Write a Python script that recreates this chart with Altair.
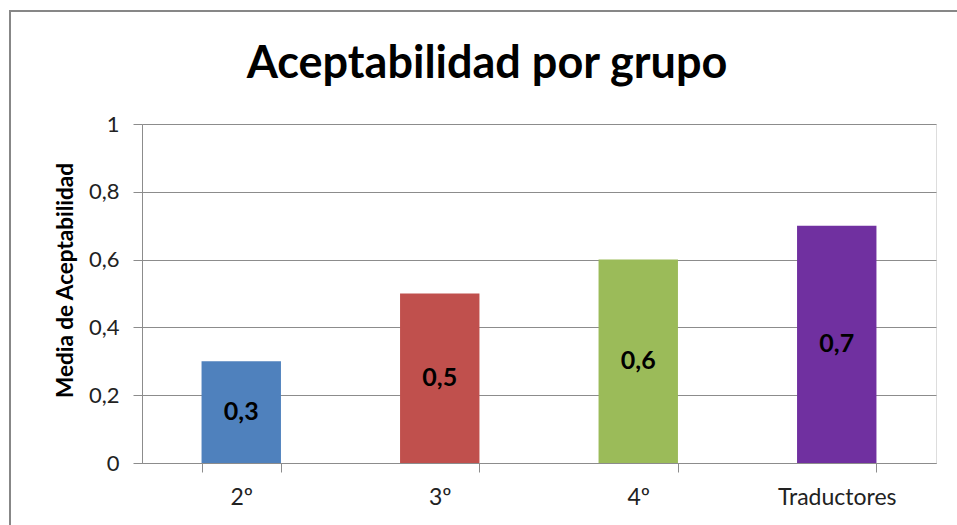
import altair as alt
import pandas as pd

# Mean acceptability per group
grupos = ["2º", "3º", "4º", "Traductores"]
medias = [0.3, 0.5, 0.6, 0.7]
colores = ["#4F81BD", "#C0504D", "#9BBB59", "#7030A0"]

df = pd.DataFrame({"grupo": grupos, "media": medias})

FONT = "Lato"
GRID = "#8C8C8C"

x_enc = alt.X(
    "grupo:N",
    sort=grupos,
    title=None,
    scale=alt.Scale(paddingInner=0.6, paddingOuter=0.3),
    axis=alt.Axis(
        labelAngle=0,
        labelFont=FONT,
        labelFontSize=23,
        labelColor="#222222",
        labelPadding=14,
        tickBand="extent",
        tickSize=9,
        tickColor=GRID,
        domainColor=GRID,
        grid=False,
    ),
)

y_enc = alt.Y(
    "media:Q",
    title="Media de Aceptabilidad",
    scale=alt.Scale(domain=[0, 1], nice=False),
    axis=alt.Axis(
        values=[0, 0.2, 0.4, 0.6, 0.8, 1],
        labelExpr="replace(format(datum.value, '.1~f'), '.', ',')",
        labelFont=FONT,
        labelFontSize=22,
        labelColor="#222222",
        labelPadding=14,
        tickSize=9,
        tickColor=GRID,
        domainColor=GRID,
        gridColor=GRID,
        titleFont=FONT,
        titleFontSize=22.5,
        titleFontWeight="bold",
        titleColor="#000000",
        titleX=-77,
        titleY=156,
        titleBaseline="middle",
        titleAlign="center",
        titleAngle=270,
    ),
)

bars = alt.Chart(df).mark_bar().encode(
    x=x_enc,
    y=y_enc,
    color=alt.Color("grupo:N", sort=grupos,
                    scale=alt.Scale(domain=grupos, range=colores), legend=None),
)

labels = alt.Chart(df).transform_calculate(
    mitad="datum.media / 2",
    texto="replace(format(datum.media, '.1f'), '.', ',')",
).mark_text(font=FONT, fontSize=25, fontWeight="bold", color="#000000").encode(
    x=alt.X("grupo:N", sort=grupos),
    y=alt.Y("mitad:Q"),
    text="texto:N",
)

# Outer chart border
marco = alt.Chart(pd.DataFrame({"k": [0]})).mark_rect(
    fill=None, stroke="#878787", strokeWidth=2
).encode(
    x=alt.value(-132), x2=alt.value(826),
    y=alt.value(-113), y2=alt.value(412),
)

chart = alt.layer(bars, labels, marco).properties(
    width=794,
    height=339,
    padding={"left": 142, "top": 124, "right": 21, "bottom": 62},
    autosize=alt.AutoSizeParams(type="none"),
    title=alt.TitleParams(
        "Aceptabilidad por grupo",
        font=FONT,
        fontSize=45,
        fontWeight="bold",
        color="#000000",
        anchor="middle",
        dx=-52,
        dy=77,
        offset=0,
    ),
).configure_view(stroke=None).configure(background="white")

chart.save("out.html", embed_options={"renderer": "svg", "actions": False})
